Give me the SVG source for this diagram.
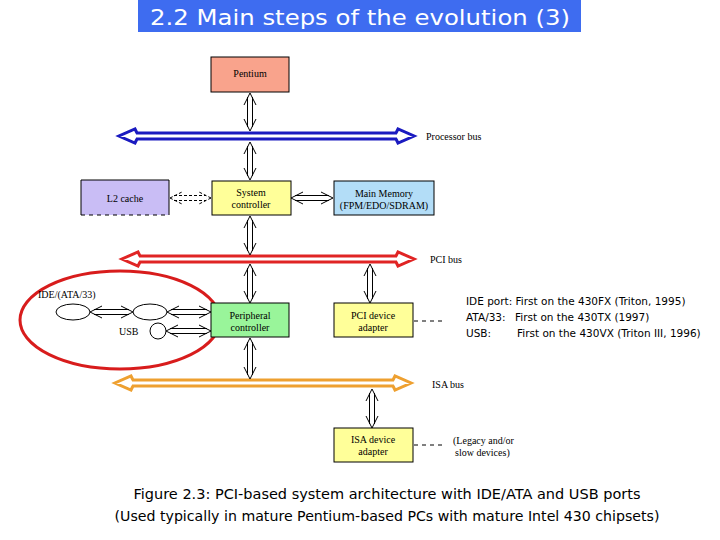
<svg xmlns="http://www.w3.org/2000/svg" width="720" height="540" viewBox="0 0 720 540">
<style>
.lbl{font-family:"Liberation Serif","Times New Roman",serif;font-size:10px;fill:#000;text-anchor:middle}
.lbll{font-family:"Liberation Serif","Times New Roman",serif;font-size:10px;fill:#000}
.note{font-family:"DejaVu Sans",Verdana,sans-serif;font-size:10.5px;fill:#000}
.cap{font-family:"DejaVu Sans",Verdana,sans-serif;font-size:13.5px;fill:#000;text-anchor:middle}
.box{stroke:#000;stroke-width:1}
.conn{fill:none;stroke:#000;stroke-width:1}
.bus{fill:none;stroke-width:3;stroke-linejoin:miter}
.dash{fill:none;stroke:#000;stroke-width:1;stroke-dasharray:4,4}
</style>
<rect width="720" height="540" fill="#fff"/>
<g id="title">
<rect x="138" y="0" width="443" height="32" fill="#3e6cf0"/>
<text x="360" y="25" font-family="DejaVu Sans,Verdana,sans-serif" font-size="21" fill="#fff" text-anchor="middle" textLength="420" lengthAdjust="spacingAndGlyphs">2.2 Main steps of the evolution (3)</text>
</g>
<g id="pentium">
<rect class="box" x="211" y="57" width="78" height="35" fill="#f9a38c"/>
<text class="lbl" x="250" y="77">Pentium</text>
</g>
<g id="processor-bus">
<path class="bus" stroke="#1a1ac0" d="M136,133 L397,133 M136,139 L397,139 M137,133 L135,129 L119,136 L135,143 L137,139 M396,133 L398,129 L414,136 L398,143 L396,139"/>
<text class="lbll" x="426" y="140">Processor bus</text>
</g>
<g id="l2-cache">
<rect x="81" y="180" width="88" height="35" fill="#c9bdf5"/>
<path d="M81,215 L81,180 L169,180 L169,215" fill="none" stroke="#000"/>
<path class="dash" d="M81,215 L169,215" stroke-dasharray="3,2"/>
<text class="lbl" x="125" y="202">L2 cache</text>
</g>
<g id="system-controller">
<rect class="box" x="212" y="181" width="79" height="34" fill="#ffff99"/>
<text class="lbl" x="251" y="196">System</text>
<text class="lbl" x="251" y="208">controller</text>
</g>
<g id="main-memory">
<rect class="box" x="334" y="181" width="100" height="34" fill="#b3ddf7"/>
<text class="lbl" x="384" y="197">Main Memory</text>
<text class="lbl" x="384" y="209">(FPM/EDO/SDRAM)</text>
</g>
<g id="pci-bus">
<path class="bus" stroke="#e02424" d="M139,256 L397,256 M139,262 L397,262 M140,256 L138,252 L122,259 L138,266 L140,262 M396,256 L398,252 L414,259 L398,266 L396,262"/>
<text class="lbll" x="430" y="263">PCI bus</text>
</g>
<g id="ide-usb-group">
<ellipse cx="120" cy="320" rx="100" ry="49" fill="none" stroke="#d81c1c" stroke-width="3"/>
<text class="lbll" x="38" y="298">IDE/(ATA/33)</text>
<ellipse cx="73" cy="312" rx="17" ry="8" fill="#fff" stroke="#000"/>
<ellipse cx="150" cy="312" rx="17" ry="8" fill="#fff" stroke="#000"/>
<circle cx="158" cy="331" r="8" fill="#fff" stroke="#000"/>
<text class="lbll" x="119" y="335">USB</text>
</g>
<g id="peripheral-controller">
<rect class="box" x="211" y="303" width="78" height="34" fill="#99f59a"/>
<text class="lbl" x="250" y="319">Peripheral</text>
<text class="lbl" x="250" y="331">controller</text>
</g>
<g id="pci-device-adapter">
<rect class="box" x="334" y="303" width="79" height="34" fill="#ffff99"/>
<text class="lbl" x="373" y="319">PCI device</text>
<text class="lbl" x="373" y="331">adapter</text>
</g>
<g id="notes">
<text class="note" x="466" y="305">IDE port: First on the 430FX (Triton, 1995)</text>
<text class="note" x="466" y="321">ATA/33:</text>
<text class="note" x="515" y="321">First on the 430TX (1997)</text>
<text class="note" x="466" y="337">USB:</text>
<text class="note" x="517" y="337">First on the 430VX (Triton III, 1996)</text>
</g>
<g id="isa-bus">
<path class="bus" stroke="#eea030" d="M132,380 L394,380 M132,386 L394,386 M133,380 L131,376 L115,383 L131,390 L133,386 M393,380 L395,376 L411,383 L395,390 L393,386"/>
<text class="lbll" x="432" y="388">ISA bus</text>
</g>
<g id="isa-device-adapter">
<rect class="box" x="334" y="428" width="79" height="34" fill="#ffff99"/>
<text class="lbl" x="373" y="443">ISA device</text>
<text class="lbl" x="373" y="455">adapter</text>
</g>
<g id="legacy-note">
<text class="lbll" x="453" y="444">(Legacy and/or</text>
<text class="lbll" x="455" y="456">slow devices)</text>
</g>
<g id="connectors">
<path class="conn" d="M250,93 L244,105 M250,93 L256,105 M247.5,97 L247.5,127 M252.5,97 L252.5,127 M250,131 L244,119 M250,131 L256,119"/>
<path class="conn" d="M250,142 L244,154 M250,142 L256,154 M247.5,146 L247.5,176 M252.5,146 L252.5,176 M250,180 L244,168 M250,180 L256,168"/>
<path class="conn" d="M250,216 L244,228 M250,216 L256,228 M247.5,220 L247.5,251 M252.5,220 L252.5,251 M250,255 L244,243 M250,255 L256,243"/>
<path class="conn" d="M250,264 L244,276 M250,264 L256,276 M247.5,268 L247.5,299 M252.5,268 L252.5,299 M250,303 L244,291 M250,303 L256,291"/>
<path class="conn" d="M370,264 L364,276 M370,264 L376,276 M367.5,268 L367.5,299 M372.5,268 L372.5,299 M370,303 L364,291 M370,303 L376,291"/>
<path class="conn" d="M250,338 L244,350 M250,338 L256,350 M247.5,342 L247.5,375 M252.5,342 L252.5,375 M250,379 L244,367 M250,379 L256,367"/>
<path class="conn" d="M372,389 L366,401 M372,389 L378,401 M369.5,393 L369.5,424 M374.5,393 L374.5,424 M372,428 L366,416 M372,428 L378,416"/>
<path class="conn" stroke-dasharray="3,2" d="M170,198 L182,192 M170,198 L182,204 M174,195.5 L206,195.5 M174,200.5 L206,200.5 M211,198 L199,192 M211,198 L199,204"/>
<path class="conn" d="M291,198 L303,192 M291,198 L303,204 M295,195.5 L329,195.5 M295,200.5 L329,200.5 M333,198 L321,192 M333,198 L321,204"/>
<path class="conn" d="M90,312 L102,306 M90,312 L102,318 M94,309.5 L129,309.5 M94,314.5 L129,314.5 M133,312 L121,306 M133,312 L121,318"/>
<path class="conn" d="M167,312 L179,306 M167,312 L179,318 M171,309.5 L207,309.5 M171,314.5 L207,314.5 M211,312 L199,306 M211,312 L199,318"/>
<path class="conn" d="M166,331 L178,325 M166,331 L178,337 M170,328.5 L207,328.5 M170,333.5 L207,333.5 M211,331 L199,325 M211,331 L199,337"/>
<path class="dash" d="M414,321 L443,321"/>
<path class="dash" d="M414,445 L443,445"/>
</g>
<g id="caption">
<text class="cap" x="387" y="499" textLength="507" lengthAdjust="spacingAndGlyphs">Figure 2.3: PCI-based system architecture with IDE/ATA and USB ports</text>
<text class="cap" x="387" y="521" textLength="545" lengthAdjust="spacingAndGlyphs">(Used typically in mature Pentium-based PCs with mature Intel 430 chipsets)</text>
</g>
</svg>
